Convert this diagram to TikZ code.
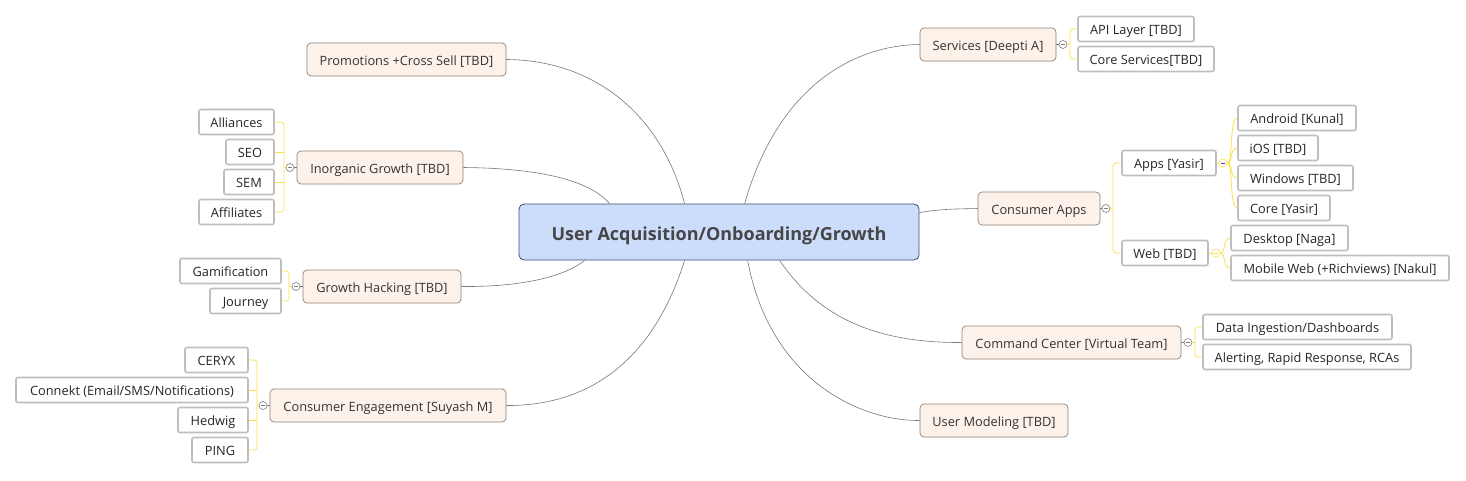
\documentclass[tikz,border=0pt]{standalone}
\usepackage{fontspec}
\setmainfont{Open Sans}
\usetikzlibrary{calc}
\definecolor{cfill}{RGB}{204,221,251}
\definecolor{cdraw}{RGB}{60,78,115}
\definecolor{mfill}{RGB}{253,242,233}
\definecolor{mdraw}{RGB}{140,128,118}
\definecolor{sdraw}{RGB}{190,190,190}
\definecolor{txt}{RGB}{51,51,51}
\definecolor{ctxt}{RGB}{70,70,70}
\definecolor{ylw}{RGB}{250,225,80}
\definecolor{conn}{RGB}{120,120,120}
\begin{document}
\begin{tikzpicture}[x=1pt,y=-1pt,
  central/.style={draw=cdraw, fill=cfill, rounded corners=5pt, line width=0.8pt, minimum height=56pt, text height=17pt, text depth=1pt, font=\fontsize{18}{20}\selectfont\bfseries, text=ctxt},
  topic/.style={draw=mdraw, fill=mfill, rounded corners=4pt, line width=0.7pt, minimum height=33pt, text height=12.5pt, text depth=1.5pt, font=\fontsize{12.8}{14}\selectfont, text=txt},
  sub/.style={draw=sdraw, fill=white, rounded corners=2pt, line width=1.6pt, minimum height=25pt, inner sep=0pt, text height=12.5pt, text depth=1.5pt, font=\fontsize{12.8}{14}\selectfont, text=black!85},
  link/.style={draw=conn, line width=0.6pt},
  brk/.style={draw=ylw, line width=0.8pt, rounded corners=3pt},
  fold/.style={circle, draw=gray, fill=white, inner sep=0pt, minimum size=8pt, line width=0.6pt},
  yfold/.style={fold, draw=ylw},
  minus/.style={draw=gray, line width=0.6pt},
]
\fill[white] (0,0) rectangle (1466,480);
\useasboundingbox (0,0) rectangle (1466,480);

% central
\node[central, minimum width=400pt] (c) at (719,232) {User Acquisition/Onboarding/Growth};

% main topics
\node[topic, minimum width=199pt] (promo) at (406.5,59.5) {Promotions +Cross Sell [TBD]};
\node[topic, minimum width=166pt] (inorg) at (380,167.5) {Inorganic Growth [TBD]};
\node[topic, minimum width=158pt] (hack) at (382,286.5) {Growth Hacking [TBD]};
\node[topic, minimum width=236pt] (engage) at (388,405.5) {Consumer Engagement [Suyash M]};
\node[topic, minimum width=136pt] (serv) at (988,44.5) {Services [Deepti A]};
\node[topic, minimum width=122pt] (capps) at (1039,208.5) {Consumer Apps};
\node[topic, minimum width=219pt] (cmd) at (1071.5,342.5) {Command Center [Virtual Team]};
\node[topic, minimum width=148pt] (umod) at (994,420.5) {User Modeling [TBD]};

% sub topics right
\node[sub, minimum width=116pt] (api) at (1136,29) {API Layer [TBD]};
\node[sub, minimum width=136pt] (cores) at (1146,59) {Core Services[TBD]};
\node[sub, minimum width=94pt] (apps) at (1169,163) {Apps [Yasir]};
\node[sub, minimum width=86pt] (web) at (1165,253) {Web [TBD]};
\node[sub, minimum width=118pt] (android) at (1297,118) {Android [Kunal]};
\node[sub, minimum width=80pt] (ios) at (1278,148) {iOS [TBD]};
\node[sub, minimum width=115pt] (win) at (1295.5,178) {Windows [TBD]};
\node[sub, minimum width=92pt] (core) at (1284,208) {Core [Yasir]};
\node[sub, minimum width=117pt] (desk) at (1289.5,238) {Desktop [Naga]};
\node[sub, minimum width=218pt] (mweb) at (1340,268) {Mobile Web (+Richviews) [Nakul]};
\node[sub, minimum width=189pt] (data) at (1297.5,327) {Data Ingestion/Dashboards};
\node[sub, minimum width=208pt] (alert) at (1307,357) {Alerting, Rapid Response, RCAs};

% sub topics left
\node[sub, minimum width=75pt] (alli) at (236.5,122) {Alliances};
\node[sub, minimum width=48pt] (seo) at (250,152) {SEO};
\node[sub, minimum width=50pt] (sem) at (249,182) {SEM};
\node[sub, minimum width=75pt] (affi) at (236.5,212) {Affiliates};
\node[sub, minimum width=101pt] (gam) at (230.5,271) {Gamification};
\node[sub, minimum width=71pt] (jour) at (245.5,301) {Journey};
\node[sub, minimum width=63pt] (ceryx) at (216.5,360) {CERYX};
\node[sub, minimum width=232pt] (connekt) at (132,390) {Connekt (Email/SMS/Notifications)};
\node[sub, minimum width=70pt] (hedwig) at (213,420) {Hedwig};
\node[sub, minimum width=56pt] (ping) at (220,450) {PING};

% main connectors
\draw[link] ([xshift=166pt]c.north west) .. controls (660,110) and (590,60) .. (promo.east);
\draw[link] ([xshift=91pt]c.north west) .. controls (585,175) and (520,168) .. (inorg.east);
\draw[link] ([xshift=66pt]c.south west) .. controls (560,280) and (510,287) .. (hack.east);
\draw[link] ([xshift=166pt]c.south west) .. controls (650,370) and (580,406) .. (engage.east);
\draw[link] ([xshift=226pt]c.north west) .. controls (780,80) and (860,45) .. (serv.west);
\draw[link] ([yshift=-9pt]c.north east) .. controls (940,209) and (955,209) .. (capps.west);
\draw[link] ([xshift=261pt]c.south west) .. controls (820,320) and (880,343) .. (cmd.west);
\draw[link] ([xshift=229pt]c.south west) .. controls (770,380) and (860,421) .. (umod.west);

% fold markers
\node[fold] (fS) at (1063,44.5) {};
\node[fold] (fCA) at (1106,208.5) {};
\node[yfold] (fApps) at (1223,163) {};
\node[yfold] (fWeb) at (1216,253) {};
\node[fold] (fCmd) at (1188,342.5) {};
\node[fold] (fInorg) at (290,167.5) {};
\node[fold] (fHack) at (296,286.5) {};
\node[fold] (fEng) at (263,405.5) {};

% brackets right
\draw[brk] (api.west) -| (1070,44.5) |- (cores.west);
\draw[brk] (apps.west) -| (1113,208.5) |- (web.west);
\foreach \k in {android,ios,win,core} {
  \draw[brk] (fApps.east) .. controls ($(fApps.east)+(6,0)$) and ($(\k.west)+(-8,0)$) .. (\k.west);
}
\foreach \k in {desk,mweb} {
  \draw[brk] (fWeb.east) .. controls ($(fWeb.east)+(6,0)$) and ($(\k.west)+(-8,0)$) .. (\k.west);
}
\draw[brk] (data.west) -| (1195,342.5) |- (alert.west);
% brackets left
\draw[brk] (alli.east) -| (284,167.5) |- (affi.east);
\draw[brk] (seo.east) -- (seo.east -| 284,0);
\draw[brk] (sem.east) -- (sem.east -| 284,0);
\draw[brk] (gam.east) -| (289,286.5) |- (jour.east);
\draw[brk] (ceryx.east) -| (257,405.5) |- (ping.east);
\draw[brk] (connekt.east) -- (connekt.east -| 257,0);
\draw[brk] (hedwig.east) -- (hedwig.east -| 257,0);

% fold links and minus signs
\draw[link] (serv.east) -- (fS.west);
\draw[link] (capps.east) -- (fCA.west);
\draw[link] (cmd.east) -- (fCmd.west);
\draw[link] (inorg.west) -- (fInorg.east);
\draw[link] (hack.west) -- (fHack.east);
\draw[link] (engage.west) -- (fEng.east);
\draw[brk] (apps.east) -- (fApps.west);
\draw[brk] (web.east) -- (fWeb.west);
\draw[brk] (fS.east) -- ++(3,0);
\draw[brk] (fCA.east) -- ++(3,0);
\draw[brk] (fCmd.east) -- ++(3,0);
\draw[brk] (fInorg.west) -- ++(-2,0);
\draw[brk] (fHack.west) -- ++(-3,0);
\draw[brk] (fEng.west) -- ++(-2,0);
\foreach \f in {fS,fCA,fCmd,fInorg,fHack,fEng} {
  \draw[minus] ([xshift=-2.2pt]\f.center) -- ([xshift=2.2pt]\f.center);
}
\draw[minus, draw=blue!50!gray] ([xshift=-2.2pt]fApps.center) -- ([xshift=2.2pt]fApps.center);
\draw[minus, draw=ylw] ([xshift=-2.2pt]fWeb.center) -- ([xshift=2.2pt]fWeb.center);
\end{tikzpicture}
\end{document}
